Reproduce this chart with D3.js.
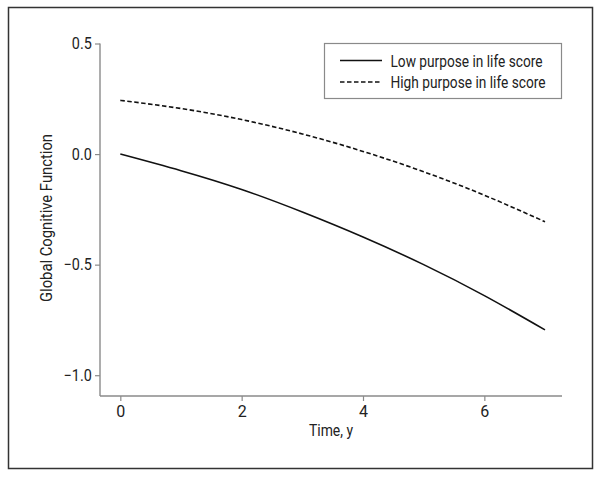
<!DOCTYPE html>
<html>
<head>
<meta charset="utf-8">
<script src="https://cdn.jsdelivr.net/npm/d3@7"></script>
<style>
  body { margin: 0; background: #fff; }
  svg text { font-family: Roboto, "Liberation Sans", sans-serif; fill: #222; }
</style>
</head>
<body>
<svg width="600" height="477"></svg>
<script>
// values (years, score)
var years = [0, 1, 2, 3, 4, 5, 6, 7];
var lowPurpose = [0.00, -0.075, -0.16, -0.262, -0.375, -0.50, -0.64, -0.795];
var highPurpose = [0.243, 0.206, 0.156, 0.091, 0.012, -0.08, -0.186, -0.306];
var seriesNames = ["Low purpose in life score", "High purpose in life score"];
var xTicks = [0, 2, 4, 6];
var yTicks = [0.5, 0.0, -0.5, -1.0];

var svg = d3.select("svg");

// outer frame
svg.append("rect")
  .attr("x", 8.5).attr("y", 7.5)
  .attr("width", 584).attr("height", 461)
  .attr("fill", "none")
  .attr("stroke", "#333")
  .attr("stroke-width", 1.5);

var x = d3.scaleLinear().domain([-0.335, 7.28]).range([100, 562]);
var y = d3.scaleLinear().domain([-1.094, 0.5]).range([396, 43.5]);

var axisColor = "#8a8a8a";

// y axis
var yAxis = svg.append("g")
  .attr("transform", "translate(100,0)")
  .call(d3.axisLeft(y).tickValues(yTicks).tickSize(5).tickPadding(3)
    .tickFormat(function(d) { return d3.format(".1f")(d).replace("-", "\u2212"); }));
yAxis.select(".domain").attr("stroke", axisColor).attr("stroke-width", 1.4)
  .attr("d", "M0," + y(0.5) + "V" + 396);
yAxis.selectAll(".tick line").attr("stroke", axisColor).attr("stroke-width", 1.2);
yAxis.selectAll(".tick text").attr("font-size", 16).attr("fill", "#222")
  .attr("transform", "translate(-1,0) scale(0.9,1)");

// x axis
var xAxis = svg.append("g")
  .attr("transform", "translate(0,396)")
  .call(d3.axisBottom(x).tickValues(xTicks).tickSize(5).tickPadding(5));
xAxis.select(".domain").attr("stroke", axisColor).attr("stroke-width", 1.4)
  .attr("d", "M100,0H562");
xAxis.selectAll(".tick line").attr("stroke", axisColor).attr("stroke-width", 1.2);
xAxis.selectAll(".tick text").attr("font-size", 16).attr("fill", "#222");

// axis titles
svg.append("text")
  .attr("x", 331).attr("y", 436)
  .attr("text-anchor", "middle")
  .attr("font-size", 16)
  .attr("textLength", 44)
  .attr("lengthAdjust", "spacingAndGlyphs")
  .text("Time, y");

svg.append("text")
  .attr("transform", "translate(52,218) rotate(-90)")
  .attr("text-anchor", "middle")
  .attr("font-size", 16)
  .attr("textLength", 168)
  .attr("lengthAdjust", "spacingAndGlyphs")
  .text("Global Cognitive Function");

// lines
var line = d3.line()
  .x(function(d) { return x(d[0]); })
  .y(function(d) { return y(d[1]); })
  .curve(d3.curveNatural);

svg.append("path")
  .datum(years.map(function(t, i) { return [t, lowPurpose[i]]; }))
  .attr("d", line)
  .attr("fill", "none")
  .attr("stroke", "#111")
  .attr("stroke-width", 1.6);

svg.append("path")
  .datum(years.map(function(t, i) { return [t, highPurpose[i]]; }))
  .attr("d", line)
  .attr("fill", "none")
  .attr("stroke", "#111")
  .attr("stroke-width", 1.6)
  .attr("stroke-dasharray", "4.5,2.5");

// legend
var legend = svg.append("g");
legend.append("rect")
  .attr("x", 324.5).attr("y", 43.5)
  .attr("width", 237).attr("height", 55)
  .attr("fill", "#fff")
  .attr("stroke", axisColor)
  .attr("stroke-width", 1.2);

var legendWidths = [152, 155];
seriesNames.forEach(function(name, i) {
  var ly = 60.5 + i * 21.5;
  legend.append("line")
    .attr("x1", 340).attr("x2", 382)
    .attr("y1", ly).attr("y2", ly)
    .attr("stroke", "#111")
    .attr("stroke-width", 1.5)
    .attr("stroke-dasharray", i === 1 ? "4.5,2.5" : null);
  legend.append("text")
    .attr("x", 390.5).attr("y", ly + 6)
    .attr("font-size", 16)
    .attr("textLength", legendWidths[i])
    .attr("lengthAdjust", "spacingAndGlyphs")
    .text(name);
});
</script>
</body>
</html>
